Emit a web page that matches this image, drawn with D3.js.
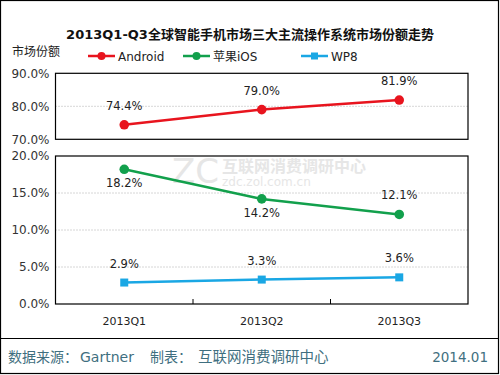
<!DOCTYPE html>
<html>
<head>
<meta charset="utf-8">
<script src="https://d3js.org/d3.v7.min.js"></script>
<style>
  html, body { margin: 0; padding: 0; background: #fff; }
  text { font-family: "DejaVu Sans", "Noto Sans CJK SC", sans-serif; }
</style>
</head>
<body>
<div id="chart"></div>
<script>
// categories and series
const quarters = ["2013Q1", "2013Q2", "2013Q3"];
const android = [74.4, 79.0, 81.9];
const ios = [18.2, 14.2, 12.1];
const wp8 = [2.9, 3.3, 3.6];
const topTicks = [70, 80, 90];
const bottomTicks = [0, 5, 10, 15, 20];

const W = 500, H = 375;
const svg = d3.select("#chart").append("svg").attr("width", W).attr("height", H);

svg.append("rect").attr("x", 0.5).attr("y", 0.5).attr("width", W - 2).attr("height", H - 2)
  .attr("fill", "#fff").attr("stroke", "#000").attr("stroke-width", 1.2);

// title
svg.append("text").attr("x", 250).attr("y", 39).attr("text-anchor", "middle")
  .style("font-size", "13px").style("font-weight", "bold").attr("fill", "#111")
  .text("2013Q1-Q3全球智能手机市场三大主流操作系统市场份额走势");

svg.append("text").attr("x", 12).attr("y", 56).style("font-size", "12px").attr("fill", "#222")
  .text("市场份额");

const left = 55.5, right = 468;
const x = d3.scaleBand().domain(quarters).range([left, right]);
const yTop = d3.scaleLinear().domain([70, 90]).range([139.3, 73.3]);
const yBot = d3.scaleLinear().domain([0, 20]).range([304, 156]);

const colors = { android: "#e8141e", ios: "#12a04c", wp8: "#1aa7e4" };

// watermark (faint)
const wm = svg.append("g").attr("fill", "#e6e6e6");
wm.append("text").attr("x", 172).attr("y", 183).style("font-size", "34px").text("ZC");
wm.append("text").attr("x", 222).attr("y", 172).style("font-size", "16px").style("font-weight", "bold")
  .text("互联网消费调研中心");
wm.append("text").attr("x", 222).attr("y", 186).style("font-size", "12px").text("zdc.zol.com.cn");

function panel(y, ticks, grid) {
  const g = svg.append("g");
  const [y0, y1] = y.range();
  grid.forEach(t => {
    g.append("line").attr("x1", left).attr("x2", right).attr("y1", y(t)).attr("y2", y(t))
      .attr("stroke", "#999").attr("stroke-width", 0.8).attr("stroke-dasharray", "1,2");
  });
  g.append("rect").attr("x", left).attr("y", y1).attr("width", right - left).attr("height", y0 - y1)
    .attr("fill", "none").attr("stroke", "#000").attr("stroke-width", 1.2);
  const ax = g.append("g").attr("transform", `translate(${left},0)`)
    .call(d3.axisLeft(y).tickValues(ticks).tickSize(0).tickPadding(6).tickFormat(d => d.toFixed(1) + "%"));
  ax.select(".domain").remove();
  ax.selectAll("text").style("font-size", "12px").attr("fill", "#333")
    .style("font-family", "DejaVu Sans, sans-serif");
  return g;
}

panel(yTop, topTicks, [80]);
panel(yBot, bottomTicks, [5, 10, 15]);

// x axis: ticks inside bottom panel, labels under it
const xa = svg.append("g").attr("transform", "translate(0,304)")
  .call(d3.axisBottom(x).tickSize(0).tickPadding(13));
xa.select(".domain").remove();
xa.selectAll("text").style("font-size", "11px").attr("fill", "#222");
quarters.slice(1).forEach(q => {
  svg.append("line").attr("x1", x(q)).attr("x2", x(q)).attr("y1", 299).attr("y2", 304)
    .attr("stroke", "#000").attr("stroke-width", 1);
});

function series(vals, y, color, marker, labelPos) {
  const pts = vals.map((v, i) => ({ q: quarters[i], v }));
  const line = d3.line().x(d => x(d.q) + x.bandwidth() / 2).y(d => y(d.v));
  svg.append("path").datum(pts).attr("d", line).attr("fill", "none")
    .attr("stroke", color).attr("stroke-width", 2.5);
  pts.forEach((d, i) => {
    const cx = x(d.q) + x.bandwidth() / 2, cy = y(d.v);
    if (marker === "circle") {
      svg.append("circle").attr("cx", cx).attr("cy", cy).attr("r", 4.8).attr("fill", color);
    } else {
      svg.append("rect").attr("x", cx - 4).attr("y", cy - 4).attr("width", 8).attr("height", 8).attr("fill", color);
    }
    const above = labelPos(i);
    svg.append("text").attr("x", cx).attr("y", above ? cy - 15 : cy + 18)
      .attr("text-anchor", "middle").style("font-size", "11.5px").attr("fill", "#222")
      .text(d.v.toFixed(1) + "%");
  });
}

series(android, yTop, colors.android, "circle", () => true);
series(ios, yBot, colors.ios, "circle", i => i === quarters.length - 1);
series(wp8, yBot, colors.wp8, "square", () => true);

// legend
const legendItems = [
  { name: "Android", color: colors.android, marker: "circle", x: 88 },
  { name: "苹果iOS", color: colors.ios, marker: "circle", x: 183 },
  { name: "WP8", color: colors.wp8, marker: "square", x: 301 }
];
legendItems.forEach(it => {
  const g = svg.append("g").attr("transform", `translate(${it.x},56)`);
  g.append("line").attr("x1", 0).attr("x2", 27).attr("stroke", it.color).attr("stroke-width", 2.5);
  if (it.marker === "circle") g.append("circle").attr("cx", 13.5).attr("r", 4).attr("fill", it.color);
  else g.append("rect").attr("x", 10).attr("y", -3.5).attr("width", 7).attr("height", 7).attr("fill", it.color);
  g.append("text").attr("x", 30).attr("y", 4.5).style("font-size", "12px").attr("fill", "#222").text(it.name);
});

// footer
svg.append("line").attr("x1", 1).attr("x2", W - 2).attr("y1", 338.5).attr("y2", 338.5)
  .attr("stroke", "#000").attr("stroke-width", 1);
const foot = svg.append("text").attr("y", 362).style("font-size", "14px").attr("fill", "#3f6f80");
foot.append("tspan").attr("x", 8).text("数据来源：");
foot.append("tspan").attr("x", 80).text("Gartner");
foot.append("tspan").attr("x", 150).text("制表：");
foot.append("tspan").attr("x", 198).style("font-size", "14.5px").text("互联网消费调研中心");
svg.append("text").attr("x", 488).attr("y", 362).attr("text-anchor", "end").style("font-size", "13.5px")
  .attr("fill", "#3f6f80").text("2014.01");
</script>
</body>
</html>
